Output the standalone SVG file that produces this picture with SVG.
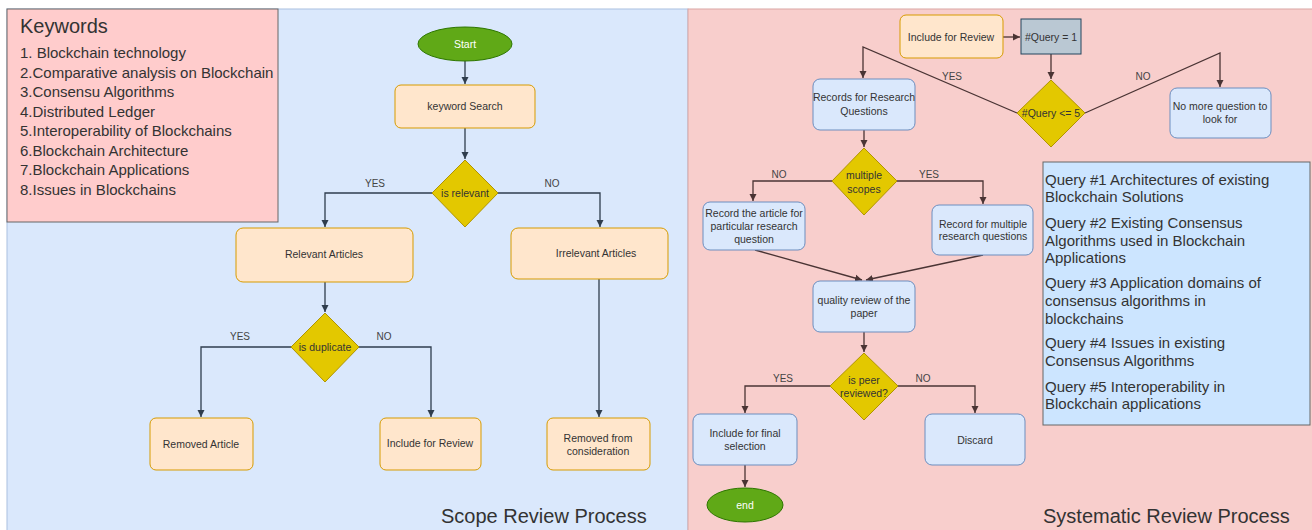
<svg xmlns="http://www.w3.org/2000/svg" width="1312" height="530" viewBox="0 0 1312 530">
<style>
text{font-family:"Liberation Sans",Arial,sans-serif;fill:#333}
.n{font-size:10.5px;text-anchor:middle}
.lb{font-size:10px;text-anchor:middle;fill:#444}
.or{fill:#ffe6cc;stroke:#d79b00;stroke-width:1}
.bl{fill:#dae8fc;stroke:#6c8ebf;stroke-width:1}
.dm{fill:#e3c800;stroke:#b09500;stroke-width:1}
.gr{fill:#60a917;stroke:#2d7600;stroke-width:1}
.kw{font-size:15px}
.q{font-size:15px}
.title{font-size:20px}
.c1{fill:none;stroke:#2f3d4d;stroke-width:1.3;marker-end:url(#a1)}
.c2{fill:none;stroke:#4a3434;stroke-width:1.3;marker-end:url(#a2)}
</style>
<defs>
<marker id="a1" markerUnits="userSpaceOnUse" markerWidth="8" markerHeight="8" refX="7" refY="4" orient="auto"><path d="M0,0.5 L7,4 L0,7.5 z" fill="#2f3d4d"/></marker>
<marker id="a2" markerUnits="userSpaceOnUse" markerWidth="8" markerHeight="8" refX="7" refY="4" orient="auto"><path d="M0,0.5 L7,4 L0,7.5 z" fill="#4a3434"/></marker>
</defs>
<rect x="0" y="0" width="1312" height="530" fill="#ffffff"/>
<g id="panel-scope">
<rect x="7" y="9" width="681" height="525" fill="#dae8fc" stroke="#a9c0e0" stroke-width="1"/>
<text x="441" y="523" class="title">Scope Review Process</text>
</g>
<g id="panel-systematic">
<rect x="688" y="9" width="626" height="525" fill="#f8cecc" stroke="#d9a5a3" stroke-width="1"/>
<text x="1043" y="523" class="title">Systematic Review Process</text>
</g>
<g id="keywords">
<rect x="7" y="9" width="271" height="213" fill="#ffcccc" stroke="#666666" stroke-width="1"/>
<text x="20" y="33" style="font-size:20px">Keywords</text>
<text class="kw" x="20" y="58">1. Blockchain technology</text>
<text class="kw" x="20" y="78">2.Comparative analysis on Blockchain</text>
<text class="kw" x="20" y="97">3.Consensu Algorithms</text>
<text class="kw" x="20" y="117">4.Distributed Ledger</text>
<text class="kw" x="20" y="136">5.Interoperability of Blockchains</text>
<text class="kw" x="20" y="156">6.Blockchain Architecture</text>
<text class="kw" x="20" y="175">7.Blockchain Applications</text>
<text class="kw" x="20" y="195">8.Issues in Blockchains</text>
</g>
<g id="connectors">
<path class="c1" d="M465 61 V84"/>
<path class="c1" d="M465 128 V159"/>
<path class="c1" d="M432 193 H325 V227"/>
<path class="c1" d="M498 193 H600 V227"/>
<path class="c1" d="M325 282 V312"/>
<path class="c1" d="M291 347 H201 V417"/>
<path class="c1" d="M359 347 H431 V417"/>
<path class="c1" d="M599 279 V417"/>
<path class="c2" d="M1003 37 H1020"/>
<path class="c2" d="M1051 54 V79"/>
<path class="c2" d="M1017 113 L863 47 V78"/>
<path class="c2" d="M1085 113 L1220 53 V87"/>
<path class="c2" d="M864 130 V147"/>
<path class="c2" d="M832 181 H753 V201"/>
<path class="c2" d="M897 181 H983 V204"/>
<path class="c2" d="M755 250 L862 280"/>
<path class="c2" d="M983 255 L866 280"/>
<path class="c2" d="M864 332 V352"/>
<path class="c2" d="M830 386 H745 V413"/>
<path class="c2" d="M898 386 H975 V413"/>
<path class="c2" d="M745 465 V487"/>
<text class="lb" x="375" y="187">YES</text>
<text class="lb" x="552" y="187">NO</text>
<text class="lb" x="240" y="340">YES</text>
<text class="lb" x="384" y="340">NO</text>
<text class="lb" x="952" y="80">YES</text>
<text class="lb" x="1143" y="80">NO</text>
<text class="lb" x="779" y="178">NO</text>
<text class="lb" x="929" y="178">YES</text>
<text class="lb" x="783" y="382">YES</text>
<text class="lb" x="923" y="382">NO</text>
</g>
<g id="start">
<ellipse class="gr" cx="465" cy="44" rx="47" ry="17"/>
<text class="n" x="465" y="48" style="fill:#ffffff">Start</text>
</g>
<g id="keyword-search">
<rect class="or" x="395" y="85" width="140" height="43" rx="6"/>
<text class="n" x="465" y="110">keyword Search</text>
</g>
<g id="is-relevant">
<path class="dm" d="M465 160 L498 193 L465 227 L432 193 z"/>
<text class="n" x="465" y="197">is relevant</text>
</g>
<g id="relevant-articles">
<rect class="or" x="236" y="228" width="177" height="54" rx="7"/>
<text class="n" x="324" y="258">Relevant Articles</text>
</g>
<g id="irrelevant-articles">
<rect class="or" x="511" y="228" width="157" height="51" rx="7"/>
<text class="n" x="596" y="257">Irrelevant Articles</text>
</g>
<g id="is-duplicate">
<path class="dm" d="M325 313 L359 347 L325 382 L291 347 z"/>
<text class="n" x="325" y="351">is duplicate</text>
</g>
<g id="removed-article">
<rect class="or" x="150" y="418" width="103" height="52" rx="6"/>
<text class="n" x="201" y="448">Removed Article</text>
</g>
<g id="include-review-left">
<rect class="or" x="380" y="418" width="101" height="52" rx="6"/>
<text class="n" x="430" y="447">Include for Review</text>
</g>
<g id="removed-consideration">
<rect class="or" x="547" y="418" width="103" height="52" rx="6"/>
<text class="n" x="598" y="442">Removed from</text>
<text class="n" x="598" y="455">consideration</text>
</g>
<g id="include-review-right">
<rect class="or" x="900" y="15" width="103" height="43" rx="6"/>
<text class="n" x="951" y="41">Include for Review</text>
</g>
<g id="query-eq-1">
<rect x="1021" y="19" width="60" height="35" fill="#bac8d3" stroke="#23445d" stroke-width="1"/>
<text class="n" x="1051" y="41">#Query = 1</text>
</g>
<g id="query-le-5">
<path class="dm" d="M1051 80 L1085 113 L1051 147 L1017 113 z"/>
<text class="n" x="1051" y="117">#Query &lt;= 5</text>
</g>
<g id="no-more-question">
<rect class="bl" x="1170" y="88" width="101" height="50" rx="7"/>
<text class="n" x="1220" y="110">No more question to</text>
<text class="n" x="1220" y="123">look for</text>
</g>
<g id="records-research">
<rect class="bl" x="813" y="79" width="102" height="51" rx="7"/>
<text class="n" x="864" y="101">Records for Research</text>
<text class="n" x="864" y="115">Questions</text>
</g>
<g id="multiple-scopes">
<path class="dm" d="M864 148 L897 181 L864 215 L832 181 z"/>
<text class="n" x="864" y="179">multiple</text>
<text class="n" x="864" y="193">scopes</text>
</g>
<g id="record-particular">
<rect class="bl" x="703" y="202" width="102" height="48" rx="7"/>
<text class="n" x="754" y="217">Record the article for</text>
<text class="n" x="754" y="230">particular research</text>
<text class="n" x="754" y="243">question</text>
</g>
<g id="record-multiple">
<rect class="bl" x="932" y="205" width="101" height="50" rx="7"/>
<text class="n" x="983" y="228">Record for multiple</text>
<text class="n" x="983" y="240">research questions</text>
</g>
<g id="quality-review">
<rect class="bl" x="813" y="281" width="102" height="51" rx="7"/>
<text class="n" x="864" y="304">quality review of the</text>
<text class="n" x="864" y="317">paper</text>
</g>
<g id="is-peer-reviewed">
<path class="dm" d="M864 353 L898 386 L864 420 L830 386 z"/>
<text class="n" x="864" y="384">is peer</text>
<text class="n" x="864" y="397">reviewed?</text>
</g>
<g id="include-final">
<rect class="bl" x="693" y="414" width="104" height="51" rx="7"/>
<text class="n" x="745" y="437">Include for final</text>
<text class="n" x="745" y="450">selection</text>
</g>
<g id="discard">
<rect class="bl" x="925" y="414" width="100" height="51" rx="7"/>
<text class="n" x="975" y="444">Discard</text>
</g>
<g id="end">
<ellipse class="gr" cx="745" cy="505" rx="38" ry="17"/>
<text class="n" x="745" y="509" style="fill:#ffffff">end</text>
</g>
<g id="queries">
<rect x="1043" y="162" width="267" height="263" fill="#cce5ff" stroke="#666666" stroke-width="1"/>
<text class="q" x="1045" y="185">Query #1 Architectures of existing</text>
<text class="q" x="1045" y="202">Blockchain Solutions</text>
<text class="q" x="1045" y="228">Query #2 Existing Consensus</text>
<text class="q" x="1045" y="246">Algorithms used in Blockchain</text>
<text class="q" x="1045" y="263">Applications</text>
<text class="q" x="1045" y="288">Query #3 Application domains of</text>
<text class="q" x="1045" y="306">consensus algorithms in</text>
<text class="q" x="1045" y="324">blockchains</text>
<text class="q" x="1045" y="348">Query #4 Issues in existing</text>
<text class="q" x="1045" y="366">Consensus Algorithms</text>
<text class="q" x="1045" y="392">Query #5 Interoperability in</text>
<text class="q" x="1045" y="409">Blockchain applications</text>
</g>
</svg>
